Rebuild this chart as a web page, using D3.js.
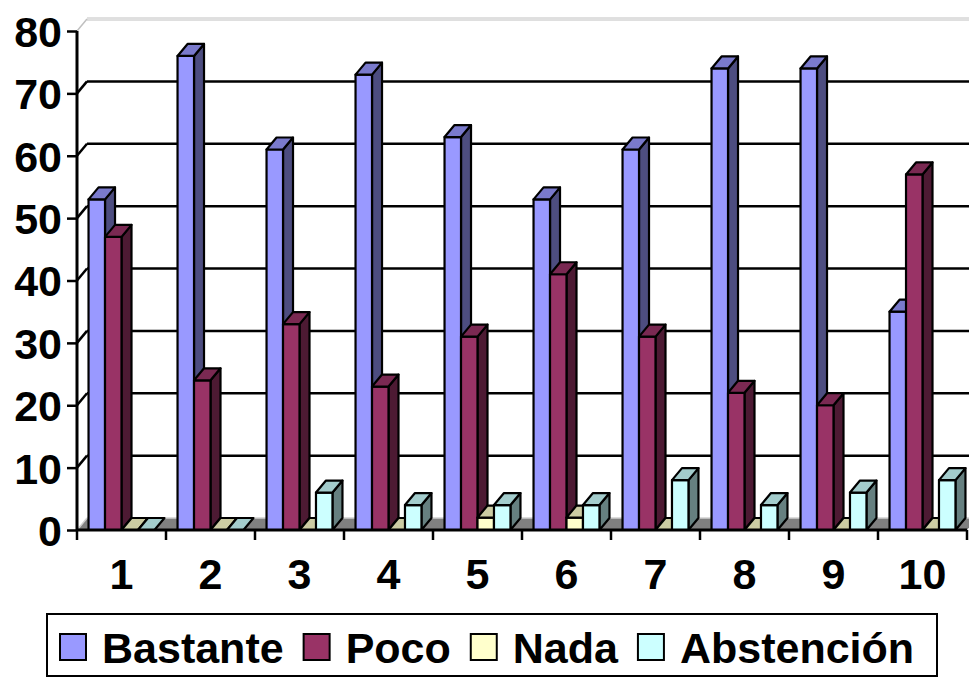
<!DOCTYPE html>
<html><head><meta charset="utf-8">
<script src="https://cdn.jsdelivr.net/npm/d3@7"></script>
<style>body{margin:0;background:#fff}svg{display:block}text{font-family:Arial,"Liberation Sans",sans-serif;font-weight:bold}</style>
</head><body><svg id="c" width="969" height="679"></svg>
<script>
const categories = ["1","2","3","4","5","6","7","8","9","10"];
const seriesNames = ["Bastante","Poco","Nada","Abstención"];
const bastante   = [53,76,61,73,63,53,61,74,74,35];
const poco       = [47,24,33,23,31,41,31,22,20,57];
const nada       = [0,0,0,0,2,2,0,0,0,0];
const abstencion = [0,0,6,4,4,4,8,4,6,8];
const yTicks = [0,10,20,30,40,50,60,70,80];
const seriesValues = [bastante, poco, nada, abstencion];
const colors = [
  {front:"#9999FF", top:"#7A7ACC", side:"#4D4D80"},
  {front:"#993366", top:"#7A2952", side:"#4D1A33"},
  {front:"#FFFFCC", top:"#CCCCA3", side:"#80806B"},
  {front:"#CCFFFF", top:"#A3CCCC", side:"#668080"}
];

const svg = d3.select("#c");
const DX = 10, DY = -12;
const FS = 43;
const x = d3.scaleBand().domain(categories).range([77, 967]).paddingInner(0).paddingOuter(0);
const xs = d3.scaleBand().domain(seriesNames).range([0, x.bandwidth()]).paddingInner(0).paddingOuter(0.7);
const y = d3.scaleLinear().domain([0, 80]).range([530, 31]);
const x0 = x.range()[0], x1 = x.range()[1];

// floor
svg.append("path")
  .attr("d", `M${x0},${y(0)}L${x0+DX},${y(0)+DY}L${x1+DX},${y(0)+DY}L${x1},${y(0)}Z`)
  .attr("fill", "#808080");
svg.append("line").attr("x1", x0+DX).attr("x2", x1+DX).attr("y1", y(0)+DY).attr("y2", y(0)+DY)
  .attr("stroke", "#d0d0d0").attr("stroke-width", 1.5);
svg.append("line").attr("x1", x0+1).attr("y1", y(0)-1).attr("x2", x0+DX).attr("y2", y(0)+DY)
  .attr("stroke", "#d0d0d0").attr("stroke-width", 1.5);

// gridlines on back wall and left wall
const grid = svg.append("g");
yTicks.filter(t => t > 0 && t < 80).forEach(t => {
  grid.append("line").attr("x1", x0+DX).attr("x2", 969).attr("y1", y(t)+DY).attr("y2", y(t)+DY)
    .attr("stroke", "#000").attr("stroke-width", 2.5);
  grid.append("line").attr("x1", x0).attr("x2", x0+DX).attr("y1", y(t)).attr("y2", y(t)+DY)
    .attr("stroke", "#000").attr("stroke-width", 2.5);
});
// top border of walls (grey)
[-1, 1].forEach(o => {
  grid.append("line").attr("x1", x0+DX).attr("x2", 969).attr("y1", y(80)+DY+o).attr("y2", y(80)+DY+o)
    .attr("stroke", "#c0c0c0").attr("stroke-width", 1);
});
grid.append("line").attr("x1", x0).attr("x2", x0+DX).attr("y1", y(80)).attr("y2", y(80)+DY)
  .attr("stroke", "#c0c0c0").attr("stroke-width", 1.5);

// bars
const bars = svg.append("g").attr("stroke", "#000").attr("stroke-width", 2.2).attr("stroke-linejoin", "round");
categories.forEach((c, i) => {
  seriesNames.forEach((s, j) => {
    const v = seriesValues[j][i];
    const bx = x(c) + xs(s), bw = xs.bandwidth();
    const yb = y(0), yt = y(v);
    const g = bars.append("g");
    if (v > 0) {
      g.append("path").attr("d", `M${bx+bw},${yb}L${bx+bw+DX},${yb+DY}L${bx+bw+DX},${yt+DY}L${bx+bw},${yt}Z`)
        .attr("fill", colors[j].side);
      g.append("rect").attr("x", bx).attr("y", yt).attr("width", bw).attr("height", yb-yt)
        .attr("fill", colors[j].front);
    }
    g.append("path").attr("d", `M${bx},${yt}L${bx+DX},${yt+DY}L${bx+bw+DX},${yt+DY}L${bx+bw},${yt}Z`)
      .attr("fill", colors[j].top);
  });
});

// y axis
const yAxis = svg.append("g").attr("transform", `translate(${x0},0)`)
  .call(d3.axisLeft(y).tickValues(yTicks).tickSize(10).tickPadding(5).tickFormat(d3.format("d")));
yAxis.select(".domain").attr("stroke", "#000").attr("stroke-width", 3).attr("d", `M0,${y(80)}V${y(0)}`);
yAxis.selectAll(".tick line").attr("stroke", "#000").attr("stroke-width", 2.5);
yAxis.selectAll(".tick text").attr("font-size", FS).attr("font-family", "Arial, 'Liberation Sans', sans-serif")
  .attr("font-weight", "bold").attr("fill", "#000").attr("dy", "0.36em");

// x axis
const xAxis = svg.append("g").attr("transform", `translate(0,${y(0)})`)
  .call(d3.axisBottom(x).tickSize(0).tickPadding(28));
xAxis.select(".domain").attr("stroke", "#000").attr("stroke-width", 3).attr("d", `M${x0},0H${x1}`);
xAxis.selectAll(".tick text").attr("font-size", FS).attr("font-family", "Arial, 'Liberation Sans', sans-serif")
  .attr("font-weight", "bold").attr("fill", "#000").attr("dy", "0.71em");
const bounds = categories.map(c => x(c)).concat([x1]);
xAxis.selectAll(".bt").data(bounds).join("line").attr("class", "bt")
  .attr("x1", d => d).attr("x2", d => d).attr("y1", 0).attr("y2", 10)
  .attr("stroke", "#000").attr("stroke-width", 2.5);

// legend
const lg = svg.append("g");
lg.append("rect").attr("x", 47).attr("y", 614).attr("width", 890).attr("height", 62)
  .attr("fill", "#fff").attr("stroke", "#000").attr("stroke-width", 2);
let lx = 60;
seriesNames.forEach((s, j) => {
  lg.append("rect").attr("x", lx).attr("y", 634).attr("width", 26).attr("height", 26)
    .attr("fill", colors[j].front).attr("stroke", "#000").attr("stroke-width", 2);
  const t = lg.append("text").attr("x", lx + 42).attr("y", 663).attr("font-size", FS).attr("fill", "#000").text(s);
  lx = lx + 42 + t.node().getComputedTextLength() + 20;
});
</script></body></html>
